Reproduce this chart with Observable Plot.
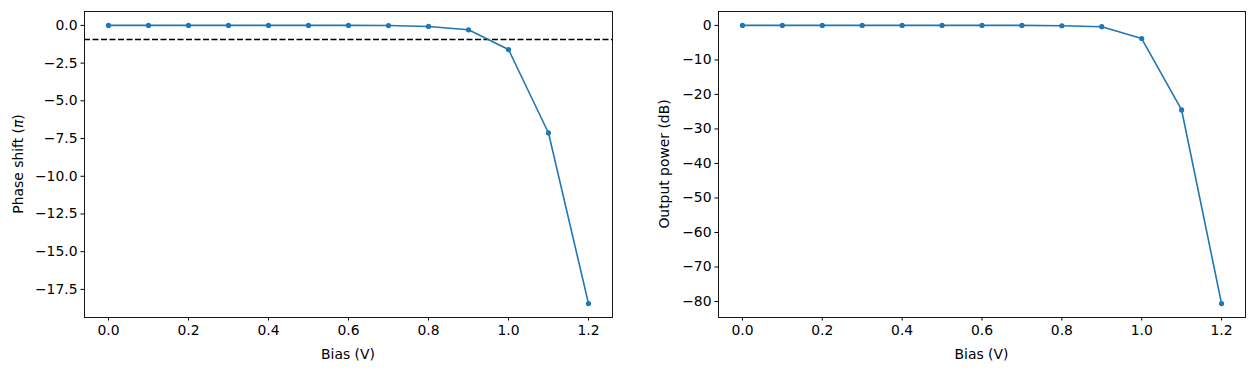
<!DOCTYPE html>
<html>
<head>
<meta charset="utf-8">
<script src="https://cdn.jsdelivr.net/npm/d3@7"></script>
<script src="https://cdn.jsdelivr.net/npm/@observablehq/plot@0.6"></script>
<style>
  html, body { margin: 0; padding: 0; background: #fff; }
  #row { display: flex; width: 1256px; height: 371px; }
</style>
</head>
<body>
<div id="row"></div>
<script>
const bias = [0.0, 0.1, 0.2, 0.3, 0.4, 0.5, 0.6, 0.7, 0.8, 0.9, 1.0, 1.1, 1.2];
const phaseShift = [0, 0, 0, 0, 0, 0, 0, -0.01, -0.07, -0.29, -1.6, -7.13, -18.44];
const outputPower = [0, 0, 0, 0, 0, 0, 0, 0, -0.1, -0.38, -3.8, -24.5, -80.6];
const phaseThreshold = -0.93;
const xTicks = [0, 0.2, 0.4, 0.6, 0.8, 1.0, 1.2];
const phaseTicks = [0, -2.5, -5, -7.5, -10, -12.5, -15, -17.5];
const powerTicks = [0, -10, -20, -30, -40, -50, -60, -70, -80];

const blue = "#1f77b4";
const W = 628, H = 371;
const FS = 13.9;

function panel({values, yTicks, yFormat, marginLeft, marginRight, extra = []}) {
  const data = bias.map((b, i) => ({bias: b, v: values[i]}));
  const lo = d3.min(values), hi = d3.max(values);
  const pad = (hi - lo) * 0.05;
  return Plot.plot({
    width: W, height: H,
    marginLeft, marginRight, marginTop: 11, marginBottom: 54,
    x: {domain: [-0.06, 1.26]},
    y: {domain: [lo - pad, hi + pad]},
    style: {fontFamily: "DejaVu Sans", fontSize: FS + "px", color: "black", background: "white", overflow: "visible"},
    marks: [
      Plot.axisX({ticks: xTicks, tickFormat: d3.format(".1f"), tickSize: 3.5, tickPadding: 4, label: null, fontSize: FS}),
      Plot.axisY({ticks: yTicks, tickFormat: yFormat, tickSize: 3.5, tickPadding: 3.5, label: null, fontSize: FS}),
      ...extra,
      Plot.line(data, {x: "bias", y: "v", stroke: blue, strokeWidth: 1.6}),
      Plot.dot(data, {x: "bias", y: "v", fill: blue, r: 2.6}),
      Plot.frame({stroke: "black", strokeWidth: 0.9})
    ]
  });
}

const left = panel({
  values: phaseShift, yTicks: phaseTicks, yFormat: d3.format(".1f"),
  marginLeft: 84, marginRight: 16,
  extra: [Plot.ruleY([phaseThreshold], {stroke: "black", strokeWidth: 1.5, strokeDasharray: "6,2.5"})]
});
const right = panel({
  values: outputPower, yTicks: powerTicks, yFormat: d3.format("d"),
  marginLeft: 90, marginRight: 11
});

function addLabels(svg, xCenter, yLabelX, yLabel, italicPi) {
  const s = d3.select(svg);
  s.append("text").attr("x", xCenter).attr("y", 359)
    .attr("text-anchor", "middle").attr("fill", "black")
    .attr("font-family", "DejaVu Sans").attr("font-size", FS).text("Bias (V)");
  const t = s.append("text")
    .attr("transform", `translate(${yLabelX},164) rotate(-90)`)
    .attr("text-anchor", "middle").attr("dominant-baseline", "middle").attr("fill", "black")
    .attr("font-family", "DejaVu Sans").attr("font-size", FS);
  if (italicPi) {
    t.append("tspan").text("Phase shift (");
    t.append("tspan").attr("font-style", "italic").text("π");
    t.append("tspan").text(")");
  } else {
    t.text(yLabel);
  }
}
addLabels(left, (84 + 612) / 2, 19, "Phase shift (π)", true);
addLabels(right, (90 + (W - 11)) / 2, 37, "Output power (dB)", false);

const row = document.getElementById("row");
row.appendChild(left);
row.appendChild(right);
</script>
</body>
</html>
